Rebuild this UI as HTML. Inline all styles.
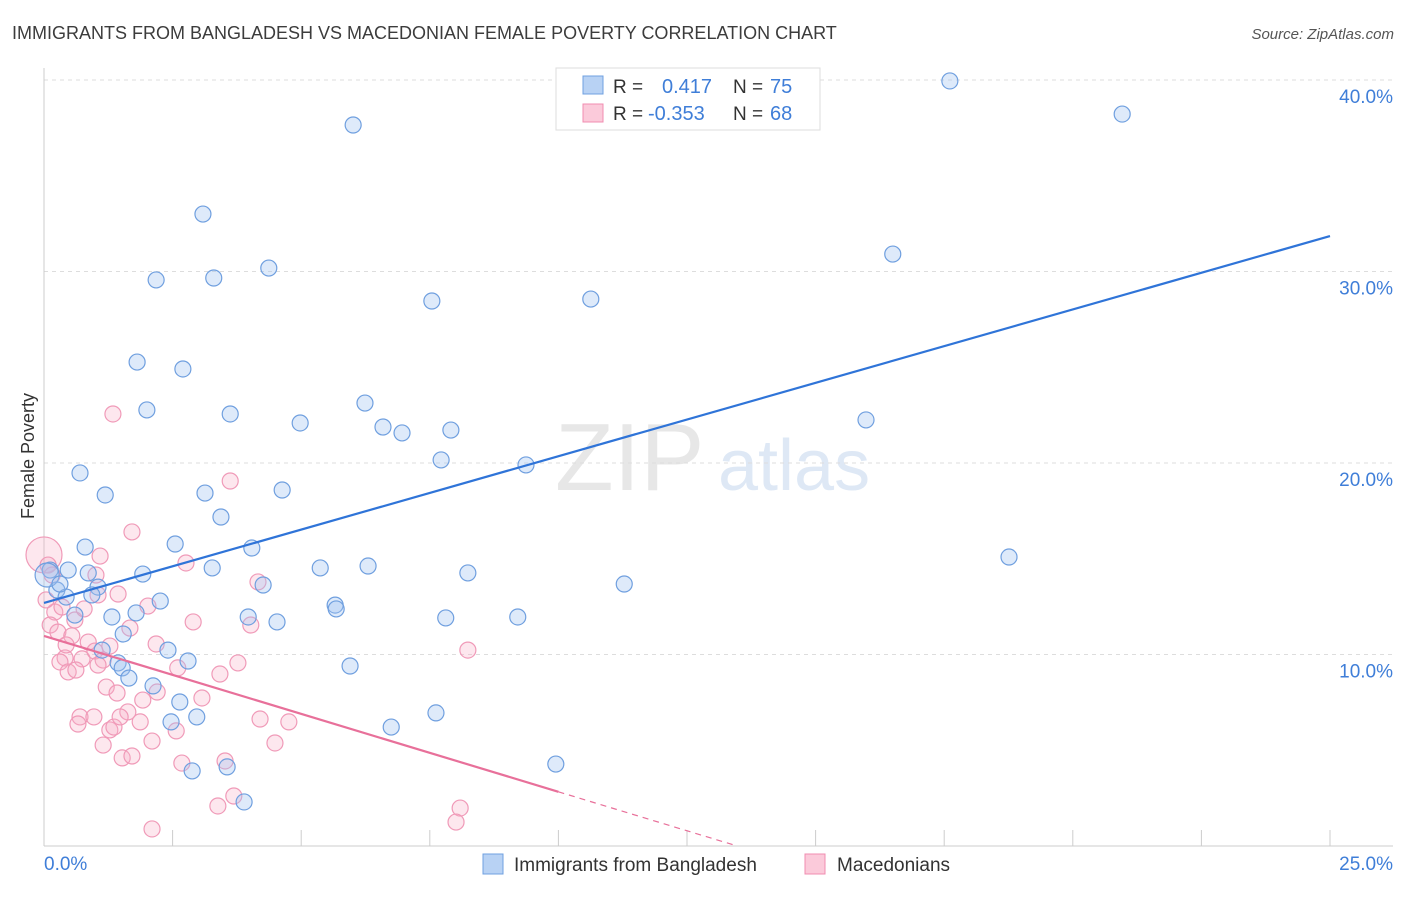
<!DOCTYPE html>
<html><head><meta charset="utf-8">
<style>
html,body{margin:0;padding:0;background:#fff;}
body{width:1406px;height:892px;overflow:hidden;font-family:"Liberation Sans",sans-serif;}
svg text{font-family:"Liberation Sans",sans-serif;}
</style></head>
<body>
<svg id="chart" width="1406" height="892" xmlns="http://www.w3.org/2000/svg">
<text x="12" y="39" font-size="18" fill="#3c3c3c">IMMIGRANTS FROM BANGLADESH VS MACEDONIAN FEMALE POVERTY CORRELATION CHART</text>
<text x="1394" y="39" font-size="15" fill="#555" text-anchor="end" font-style="italic">Source: ZipAtlas.com</text>
<g>
<text x="555" y="490" font-size="96" fill="#d8d8d8" font-family="Liberation Serif,serif" opacity="0.6">ZIP</text>
<text x="718" y="490" font-size="72" fill="#c9daf0" opacity="0.6">atlas</text>
</g>
<g id="grid"></g>
<g id="axes"></g>
<g id="pinkPts"></g>
<g id="bluePts"></g>
<g id="lines"></g>
<text transform="translate(34,456) rotate(-90)" font-size="18" fill="#333" text-anchor="middle">Female Poverty</text>
<g>
<rect x="556" y="68" width="264" height="62" fill="#fff" stroke="#ddd"/>
<rect x="583" y="76" width="20" height="18" fill="#b8d2f4" stroke="#6fa0e0"/>
<rect x="583" y="104" width="20" height="18" fill="#fbcada" stroke="#f08cb0"/>
<text x="613" y="93" font-size="19" fill="#333">R =</text>
<text x="662" y="93" font-size="20" fill="#3f7ed8">0.417</text>
<text x="733" y="93" font-size="19" fill="#333">N =</text>
<text x="770" y="93" font-size="20" fill="#3f7ed8">75</text>
<text x="613" y="120" font-size="19" fill="#333">R =</text>
<text x="648" y="120" font-size="20" fill="#3f7ed8">-0.353</text>
<text x="733" y="120" font-size="19" fill="#333">N =</text>
<text x="770" y="120" font-size="20" fill="#3f7ed8">68</text>
</g>
<g>
<rect x="483" y="854" width="20" height="20" fill="#b8d2f4" stroke="#6fa0e0"/>
<text x="514" y="871" font-size="19" fill="#333">Immigrants from Bangladesh</text>
<rect x="805" y="854" width="20" height="20" fill="#fbcada" stroke="#f08cb0"/>
<text x="837" y="871" font-size="19" fill="#333">Macedonians</text>
</g>
</svg>
<script>
const xTicks=[0,2.5,5,7.5,10,12.5,15,17.5,20,22.5,25];
const yTicks=[10,20,30,40];
const yTickLabels=["10.0%","20.0%","30.0%","40.0%"];
const xEndLabels=["0.0%","25.0%"];
const blueX=[17.61,20.96,6.01,3.09,2.18,3.30,4.37,7.54,10.63,16.50,1.81,2.70,2.00,3.62,4.98,6.24,6.59,6.96,7.91,15.98,0.70,1.19,3.13,4.63,7.72,9.37,3.44,0.80,2.55,4.04,18.76,0.12,0.47,0.86,1.92,3.27,4.26,5.37,6.30,8.24,11.28,0.25,0.43,1.05,2.26,0.60,1.32,1.79,3.97,4.53,5.66,5.68,7.81,9.21,1.54,1.13,2.41,2.80,1.44,1.52,1.65,5.95,2.12,2.64,2.97,2.47,6.75,7.62,2.88,3.56,3.89,9.95,0.06,0.31,0.93];
const blueY=[39.95,38.22,37.65,33.0,29.56,29.66,30.18,28.46,28.56,30.91,25.27,24.91,22.77,22.56,22.09,23.13,21.88,21.57,21.72,22.25,19.48,18.33,18.43,18.59,20.16,19.90,17.18,15.61,15.77,15.56,15.09,14.41,14.41,14.26,14.20,14.52,13.63,14.52,14.62,14.26,13.68,13.37,13.00,13.52,12.79,12.06,11.96,12.17,11.96,11.70,12.58,12.38,11.91,11.96,11.07,10.23,10.23,9.66,9.56,9.30,8.77,9.40,8.36,7.52,6.74,6.48,6.21,6.95,3.92,4.13,2.30,4.28,14.15,13.68,13.11];
const pinkX=[0,0.08,0.16,0.21,0.12,0.27,0.60,1.09,1.01,1.05,0.78,1.44,1.67,1.71,2.02,2.76,2.90,3.62,4.16,4.02,1.34,0.54,0.86,1.28,2.18,0.41,0.74,0.99,0.31,0.47,0.62,1.15,2.60,3.77,3.42,3.07,2.20,1.21,1.42,1.92,0.70,0.97,0.66,1.63,1.28,1.36,1.87,2.57,4.20,4.76,1.15,2.10,1.52,1.71,2.68,3.52,4.49,3.69,3.38,8.09,8.01,2.10,8.24,1.05,0.35,0.04,1.48,0.43];
const pinkY=[15.20,14.67,14.15,12.22,11.54,11.17,11.80,15.14,14.15,13.11,12.38,13.16,11.38,16.40,12.53,14.78,11.70,19.06,13.79,11.54,22.56,10.97,10.65,10.44,10.55,9.82,9.77,10.18,9.61,9.09,9.19,9.71,9.30,9.56,8.98,7.73,8.04,8.30,7.99,7.62,6.74,6.74,6.37,7.00,6.06,6.21,6.48,6.01,6.63,6.48,5.27,5.48,4.60,4.70,4.33,4.44,5.38,2.61,2.09,1.98,1.25,0.89,10.23,9.45,12.48,12.85,6.74,10.50];
const blueTrend=[12.69,31.85];   // y at x=0 and x=25
const pinkTrend=[10.97,-0.814];  // intercept, slope
const pinkSolidEnd=10;

const NS="http://www.w3.org/2000/svg";
const X0=44,X1=1330,Y0=846,Y40=80;
const sx=v=>X0+(X1-X0)*v/25;
const sy=v=>Y0-(Y0-Y40)*v/40;
function mk(tag,attrs,parent){const e=document.createElementNS(NS,tag);for(const k in attrs)e.setAttribute(k,attrs[k]);parent.appendChild(e);return e;}
const grid=document.getElementById('grid'),axes=document.getElementById('axes');
yTicks.forEach((t,i)=>{
  const l=mk('line',{x1:X0,x2:1393,y1:sy(t),y2:sy(t),stroke:'#ddd','stroke-dasharray':'4,4'},grid);
  
  
  const tx=mk('text',{x:1393,y:sy(t)+23,'font-size':19,fill:'#3f7ed8','text-anchor':'end'},axes);
  tx.textContent=yTickLabels[i];
  
  
});
const ya=mk('line',{x1:X0,x2:X0,y1:68,y2:Y0,stroke:'#ccc'},axes);


const xa=mk('line',{x1:X0,x2:1393,y1:Y0,y2:Y0,stroke:'#ccc'},axes);


xTicks.forEach(t=>{
  const l=mk('line',{x1:sx(t),x2:sx(t),y1:830,y2:Y0,stroke:'#ccc'},axes);
  
  
});
const xl0=mk('text',{x:X0,y:870,'font-size':19,fill:'#3f7ed8'},axes);xl0.textContent=xEndLabels[0];


const xl1=mk('text',{x:1393,y:870,'font-size':19,fill:'#3f7ed8','text-anchor':'end'},axes);xl1.textContent=xEndLabels[1];



const bp=document.getElementById('bluePts'),pp=document.getElementById('pinkPts');
pinkX.forEach((x,i)=>{
  const c=mk('circle',{cx:sx(x),cy:sy(pinkY[i]),r:i===0?18:8,fill:'rgba(248,175,198,0.3)',stroke:'#f09ab8','stroke-width':1.2},pp);
  
  
});
blueX.forEach((x,i)=>{
  const c=mk('circle',{cx:sx(x),cy:sy(blueY[i]),r:i===72?12:8,fill:'rgba(160,196,240,0.35)',stroke:'#6f9fdf','stroke-width':1.2},bp);
  
  
});
const lg=document.getElementById('lines');
const bl=mk('line',{x1:sx(0),y1:sy(blueTrend[0]),x2:sx(25),y2:sy(blueTrend[1]),stroke:'#2f74d8','stroke-width':2.2},lg);


const pyAt=x=>pinkTrend[0]+pinkTrend[1]*x;
const pl=mk('line',{x1:sx(0),y1:sy(pyAt(0)),x2:sx(pinkSolidEnd),y2:sy(pyAt(pinkSolidEnd)),stroke:'#e8709a','stroke-width':2.2},lg);


const zx=-pinkTrend[0]/pinkTrend[1];
const pd=mk('line',{x1:sx(pinkSolidEnd),y1:sy(pyAt(pinkSolidEnd)),x2:sx(zx),y2:sy(0),stroke:'#e8709a','stroke-width':1.2,'stroke-dasharray':'6,5'},lg);


</script>
</body></html>
